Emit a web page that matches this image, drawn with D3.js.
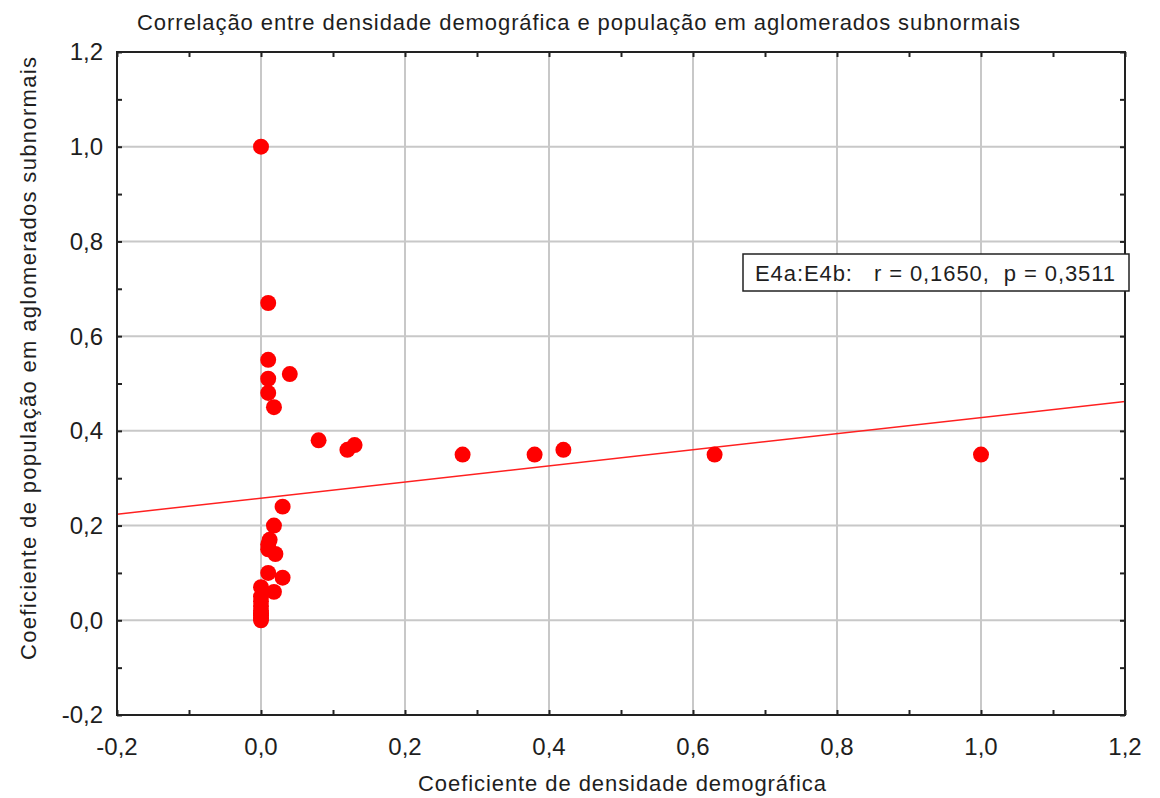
<!DOCTYPE html>
<html><head><meta charset="utf-8">
<script src="https://cdn.jsdelivr.net/npm/d3@7"></script>
<style>body{margin:0;background:#fff}svg{display:block}text{font-family:"Liberation Sans",Arial,sans-serif;fill:#1e1e1e}</style>
</head><body><svg id="c" width="1160" height="798"></svg>
<script>
const title = "Correlação entre densidade demográfica e população em aglomerados subnormais";
const xLabel = "Coeficiente de densidade demográfica";
const yLabel = "Coeficiente de população em aglomerados subnormais";
const legendText = "E4a:E4b:   r = 0,1650,  p = 0,3511";
const xValues = [0, 0.01, 0.01, 0.04, 0.01, 0.01, 0.018, 0.08, 0.12, 0.13, 0.28, 0.38, 0.42, 0.63, 1.0,
  0.03, 0.018, 0.012, 0.01, 0.02, 0.01, 0.03, 0, 0.018, 0, 0, 0, 0, 0, 0, 0.01, 0, 0];
const yValues = [1.0, 0.67, 0.55, 0.52, 0.51, 0.48, 0.45, 0.38, 0.36, 0.37, 0.35, 0.35, 0.36, 0.35, 0.35,
  0.24, 0.20, 0.17, 0.15, 0.14, 0.10, 0.09, 0.07, 0.06, 0.05, 0.04, 0.03, 0.02, 0.01, 0.0, 0.16, 0.015, 0.005];
const fitIntercept = 0.258, fitSlope = 0.17;
const ticks = [-0.2, 0, 0.2, 0.4, 0.6, 0.8, 1.0, 1.2];
const minorTicks = [-0.1, 0.1, 0.3, 0.5, 0.7, 0.9, 1.1];
const fmt = v => d3.format(".1f")(v).replace(".", ",").replace("−", "-");

const svg = d3.select("#c");
const L = 117, R = 1125, T = 52, B = 715;
const x = d3.scaleLinear().domain([-0.2, 1.2]).range([L, R]);
const y = d3.scaleLinear().domain([-0.2, 1.2]).range([B, T]);

// grid
const g = svg.append("g");
g.selectAll(".gx").data(ticks.slice(1, -1)).join("line")
  .attr("x1", d => x(d)).attr("x2", d => x(d)).attr("y1", T).attr("y2", B)
  .attr("stroke", "#c8c8c8").attr("stroke-width", 2);
g.selectAll(".gy").data(ticks.slice(1, -1)).join("line")
  .attr("y1", d => y(d)).attr("y2", d => y(d)).attr("x1", L).attr("x2", R)
  .attr("stroke", "#c8c8c8").attr("stroke-width", 2);

// regression line
svg.append("clipPath").attr("id", "clp").append("rect")
  .attr("x", L).attr("y", T).attr("width", R - L).attr("height", B - T);
svg.append("line").attr("clip-path", "url(#clp)")
  .attr("x1", x(-0.2)).attr("y1", y(fitIntercept + fitSlope * -0.2))
  .attr("x2", x(1.2)).attr("y2", y(fitIntercept + fitSlope * 1.2))
  .attr("stroke", "#ff2020").attr("stroke-width", 1.5);

// points
const pts = xValues.map((v, i) => [v, yValues[i]]);
svg.append("g").selectAll("path").data(pts).join("path")
  .attr("transform", d => `translate(${x(d[0])},${y(d[1])})`)
  .attr("d", d3.symbol(d3.symbolCircle, 200))
  .attr("fill", "#ff0000");

// frame and inward ticks
svg.append("rect").attr("x", L).attr("y", T).attr("width", R - L).attr("height", B - T)
  .attr("fill", "none").attr("stroke", "#222").attr("stroke-width", 2);
const ax = (axis, tr) => svg.append("g").attr("transform", tr).call(axis)
  .call(s => { s.select(".domain").remove(); s.selectAll("text").remove(); s.selectAll("line").attr("stroke", "#222").attr("stroke-width", 2); });
const allT = ticks.concat(minorTicks);
ax(d3.axisBottom(x).tickValues(allT).tickSize(-5), `translate(0,${B})`);
ax(d3.axisTop(x).tickValues(allT).tickSize(-5), `translate(0,${T})`);
ax(d3.axisLeft(y).tickValues(allT).tickSize(-5), `translate(${L},0)`);
ax(d3.axisRight(y).tickValues(allT).tickSize(-5), `translate(${R},0)`);

// tick labels
svg.append("g").selectAll("text").data(ticks).join("text")
  .attr("x", 103).attr("y", d => y(d)).attr("dy", "0.35em").attr("text-anchor", "end")
  .attr("font-size", 24).attr("font-family", "Liberation Sans Narrow, Liberation Sans").text(fmt);
svg.append("g").selectAll("text").data(ticks).join("text")
  .attr("x", d => x(d)).attr("y", 755).attr("text-anchor", "middle")
  .attr("font-size", 24).attr("font-family", "Liberation Sans Narrow, Liberation Sans").text(fmt);

// titles
svg.append("text").attr("x", 578.5).attr("y", 30).attr("text-anchor", "middle").attr("font-size", 22)
  .attr("textLength", 883).attr("lengthAdjust", "spacing").text(title);
svg.append("text").attr("x", 622).attr("y", 791).attr("text-anchor", "middle").attr("font-size", 22)
  .attr("textLength", 408).attr("lengthAdjust", "spacing").text(xLabel);
svg.append("text").attr("transform", `translate(36,358.5) rotate(-90)`).attr("text-anchor", "middle").attr("font-size", 22)
  .attr("textLength", 603).attr("lengthAdjust", "spacing").text(yLabel);

// legend
svg.append("rect").attr("x", 743).attr("y", 254).attr("width", 386).attr("height", 37)
  .attr("fill", "#fff").attr("stroke", "#222").attr("stroke-width", 1.5);
svg.append("text").attr("x", 755).attr("y", 281).attr("font-size", 22).attr("xml:space", "preserve")
  .style("white-space", "pre").attr("textLength", 360).attr("lengthAdjust", "spacing").text(legendText);
</script></body></html>
